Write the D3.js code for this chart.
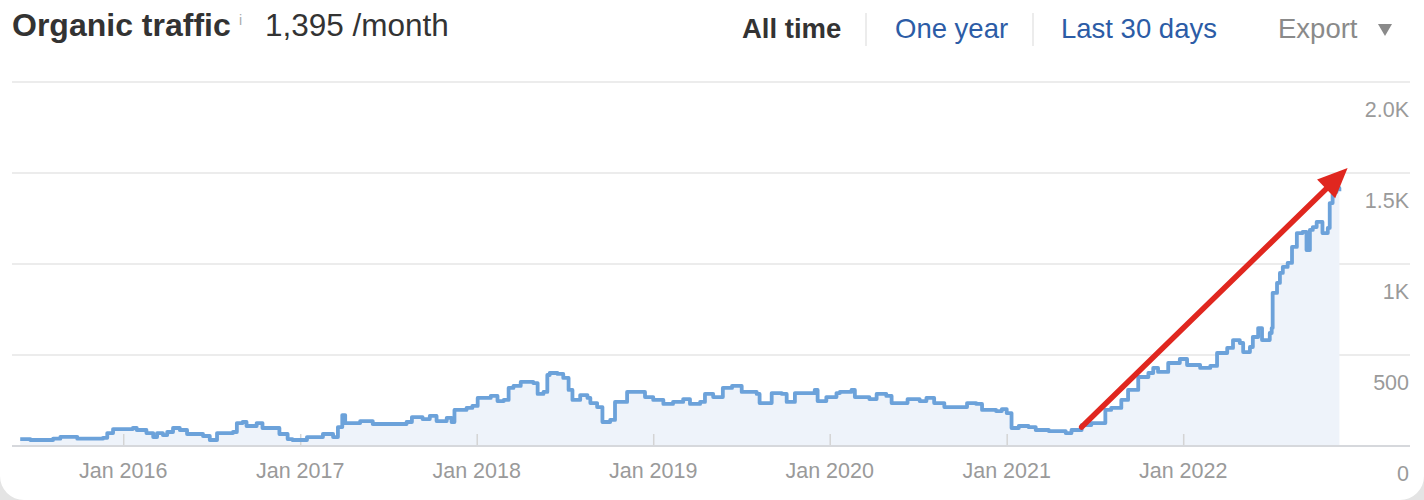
<!DOCTYPE html>
<html><head><meta charset="utf-8">
<script src="https://cdn.jsdelivr.net/npm/d3@7"></script>
<style>
html,body{margin:0;padding:0;background:#fff;}
svg{display:block;font-family:"Liberation Sans",Arial,Helvetica,sans-serif;}
</style></head>
<body>
<svg id="chart" width="1424" height="500"></svg>
<script>
// ---- data ----
const dates = [
"2015-06-02","2015-06-23","2015-08-09","2015-08-24","2015-09-28","2015-11-20","2015-11-29","2015-12-11",
"2016-01-21","2016-01-29","2016-02-18","2016-03-03","2016-03-11","2016-03-23","2016-04-01","2016-04-13","2016-04-27","2016-05-12","2016-06-14","2016-06-28","2016-07-13","2016-08-15","2016-08-23","2016-09-04","2016-09-12","2016-10-03","2016-10-15","2016-11-05","2016-11-19","2016-12-06","2016-12-16",
"2017-01-15","2017-02-17","2017-03-10","2017-03-20","2017-03-29","2017-04-04","2017-05-05","2017-05-31","2017-06-29","2017-08-09","2017-08-20","2017-09-11","2017-09-26","2017-10-10","2017-10-31","2017-11-10","2017-11-16","2017-12-11","2017-12-23",
"2018-01-03","2018-01-30","2018-02-13","2018-02-26","2018-03-08","2018-03-18","2018-04-02","2018-04-28","2018-05-07","2018-05-19","2018-05-27","2018-06-01","2018-06-17","2018-06-29","2018-07-10","2018-07-18","2018-08-03","2018-08-18","2018-08-24","2018-09-07","2018-09-18","2018-10-04","2018-10-14","2018-11-08","2018-11-29","2018-12-15",
"2019-01-01","2019-01-22","2019-02-11","2019-03-04","2019-03-18","2019-04-08","2019-04-18","2019-05-05","2019-05-25","2019-06-13","2019-07-03","2019-08-03","2019-08-09","2019-09-03","2019-09-24","2019-10-04","2019-10-21","2019-11-14","2019-12-01","2019-12-07","2019-12-25",
"2020-01-15","2020-01-22","2020-02-15","2020-02-22","2020-03-23","2020-04-07","2020-04-27","2020-05-08","2020-05-31","2020-06-10","2020-07-05","2020-07-19","2020-08-04","2020-08-25","2020-09-25","2020-10-11","2020-10-30","2020-11-11","2020-12-10","2020-12-22",
"2021-01-01","2021-01-11","2021-01-26","2021-02-15","2021-03-02","2021-03-29","2021-05-03","2021-05-15","2021-06-05","2021-06-25","2021-07-24","2021-08-05","2021-08-26","2021-09-09","2021-09-30","2021-10-21","2021-10-31","2021-11-10","2021-12-01","2021-12-25",
"2022-01-09","2022-02-05","2022-02-26","2022-03-12","2022-04-02","2022-04-14","2022-04-28","2022-05-05","2022-05-19","2022-05-25","2022-06-05","2022-06-13","2022-06-29","2022-07-03","2022-07-05","2022-07-14","2022-07-20","2022-07-26","2022-08-05","2022-08-14","2022-08-24","2022-09-05","2022-09-13","2022-09-20","2022-09-26","2022-10-04","2022-10-10","2022-10-16","2022-10-27","2022-10-31","2022-11-06","2022-11-14","2022-11-20"
];
const traffic = [
38,33,40,50,40,45,71,93,
99,88,71,49,71,60,77,99,88,66,55,33,71,77,126,132,110,126,99,99,66,38,33,
49,66,49,104,170,126,137,121,121,132,159,148,165,137,154,132,198,209,220,
264,275,247,253,319,330,352,346,286,297,390,401,396,374,308,253,280,264,236,214,132,143,242,297,297,269,
253,231,242,258,231,242,286,269,319,330,297,286,236,291,286,242,291,291,308,247,269,
291,297,308,269,258,286,275,236,236,258,247,264,236,214,214,236,231,198,192,203,
181,99,110,104,88,82,71,88,115,126,198,209,253,308,379,401,429,407,456,478,
445,429,440,511,539,582,566,516,544,599,648,582,621,648,841,896,951,984,1006,1094,1170,1176,1077,1187,1203,1231,1231,1170,1198,1335,1396,1418,1400
];
const xTickDates = ["2016-01-01","2017-01-01","2018-01-01","2019-01-01","2020-01-01","2021-01-01","2022-01-01"];
const yTicks = [0, 500, 1000, 1500, 2000];
const yTickLabels = ["0", "500", "1K", "1.5K", "2.0K"];
const xDomain = ["2015-05-16", "2023-04-15"];
const arrowFrom = {date: "2021-06-05", value: 104};
const arrowTo = {date: "2022-12-07", value: 1528};
const title = "Organic traffic";
const headline = "1,395 /month";
const ranges = ["All time", "One year", "Last 30 days"];

// ---- setup ----
const parse = d3.utcParse("%Y-%m-%d");
const data = dates.map((d, i) => ({date: parse(d), value: traffic[i]}));
const svg = d3.select("#chart");
const W = 1424, H = 500;

// card background (rounded bottom corners)
svg.append("rect").attr("width", W).attr("height", H).attr("fill", "#e4e4e4");
svg.append("rect").attr("x", 0).attr("y", -40).attr("width", W).attr("height", H + 40)
  .attr("rx", 24).attr("fill", "#fff");

const x = d3.scaleUtc().domain(xDomain.map(parse)).range([12, 1410]);
const y = d3.scaleLinear().domain([0, 2000]).range([446, 82]);

// gridlines
const grid = svg.append("g");
grid.selectAll("line").data(yTicks.filter(t => t > 0)).join("line")
  .attr("x1", 12).attr("x2", 1410)
  .attr("y1", d => y(d)).attr("y2", d => y(d))
  .attr("stroke", "#e6e6e6").attr("stroke-width", 1.5);

const curve = d3.curveStepAfter;

// area
const area = d3.area().x(d => x(d.date)).y0(y(0)).y1(d => y(d.value)).curve(curve);
svg.append("path").datum(data).attr("d", area).attr("fill", "#eef3fa");

// x ticks (short, upward)
const xAxis = d3.axisTop(x).tickValues(xTickDates.map(parse)).tickSize(12).tickFormat("");
const gx = svg.append("g").attr("transform", `translate(0,${y(0)})`).call(xAxis);
gx.select(".domain").remove();
gx.selectAll(".tick line").attr("stroke", "#d4d4d4").attr("stroke-width", 1.5);

// baseline
svg.append("line").attr("x1", 12).attr("x2", 1410).attr("y1", y(0)).attr("y2", y(0))
  .attr("stroke", "#d6d8dc").attr("stroke-width", 2);

// x labels
svg.append("g").selectAll("text").data(xTickDates).join("text")
  .attr("x", d => x(parse(d))).attr("y", 478)
  .attr("text-anchor", "middle").attr("font-size", 21.5).attr("fill", "#9a9a9a")
  .text(d => d3.utcFormat("Jan %Y")(parse(d)));

// y labels
svg.append("g").selectAll("text").data(yTicks).join("text")
  .attr("x", 1409).attr("y", d => y(d) + 35)
  .attr("text-anchor", "end").attr("font-size", 21.5).attr("fill", "#9a9a9a")
  .text((d, i) => yTickLabels[i]);

// line
const line = d3.line().x(d => x(d.date)).y(d => y(d.value)).curve(curve);
svg.append("path").datum(data).attr("d", line)
  .attr("fill", "none").attr("stroke", "#6ca2da").attr("stroke-width", 3.8)
  .attr("stroke-linejoin", "round");

// red arrow annotation
const ax1 = x(parse(arrowFrom.date)), ay1 = y(arrowFrom.value);
const ax2 = x(parse(arrowTo.date)), ay2 = y(arrowTo.value);
const len = Math.hypot(ax2 - ax1, ay2 - ay1);
const ux = (ax2 - ax1) / len, uy = (ay2 - ay1) / len;
const headL = 30, headW = 13;
const bx = ax2 - ux * headL, by = ay2 - uy * headL;
svg.append("line").attr("x1", ax1).attr("y1", ay1).attr("x2", bx + ux * 2).attr("y2", by + uy * 2)
  .attr("stroke", "#e0271f").attr("stroke-width", 5.5).attr("stroke-linecap", "round");
svg.append("path")
  .attr("d", `M${ax2},${ay2}L${bx - uy * headW},${by + ux * headW}L${bx + uy * headW},${by - ux * headW}Z`)
  .attr("fill", "#e0271f");

// header
const hdr = svg.append("g");
hdr.append("text").attr("x", 12).attr("y", 36).attr("font-size", 32).attr("font-weight", "bold")
  .attr("fill", "#333").text(title);
hdr.append("text").attr("x", 239).attr("y", 25).attr("font-size", 14).attr("fill", "#aaa").text("i");
hdr.append("text").attr("x", 265).attr("y", 36).attr("font-size", 31.5).attr("fill", "#333").text(headline);

hdr.append("text").attr("x", 742).attr("y", 38).attr("font-size", 27.5).attr("font-weight", "bold")
  .attr("fill", "#333").text(ranges[0]);
hdr.append("text").attr("x", 895).attr("y", 38).attr("font-size", 27.5).attr("fill", "#2c5ca6").text(ranges[1]);
hdr.append("text").attr("x", 1061).attr("y", 38).attr("font-size", 27.5).attr("fill", "#2c5ca6").text(ranges[2]);
hdr.append("text").attr("x", 1278).attr("y", 38).attr("font-size", 27.5).attr("fill", "#8a8a8a").text("Export");
hdr.append("path").attr("d", "M1378,24L1392,24L1385,36Z").attr("fill", "#8a8a8a");
[866, 1033].forEach(sx => hdr.append("line").attr("x1", sx).attr("x2", sx).attr("y1", 13).attr("y2", 46)
  .attr("stroke", "#e6e6e6").attr("stroke-width", 1.5));
</script>
</body></html>
